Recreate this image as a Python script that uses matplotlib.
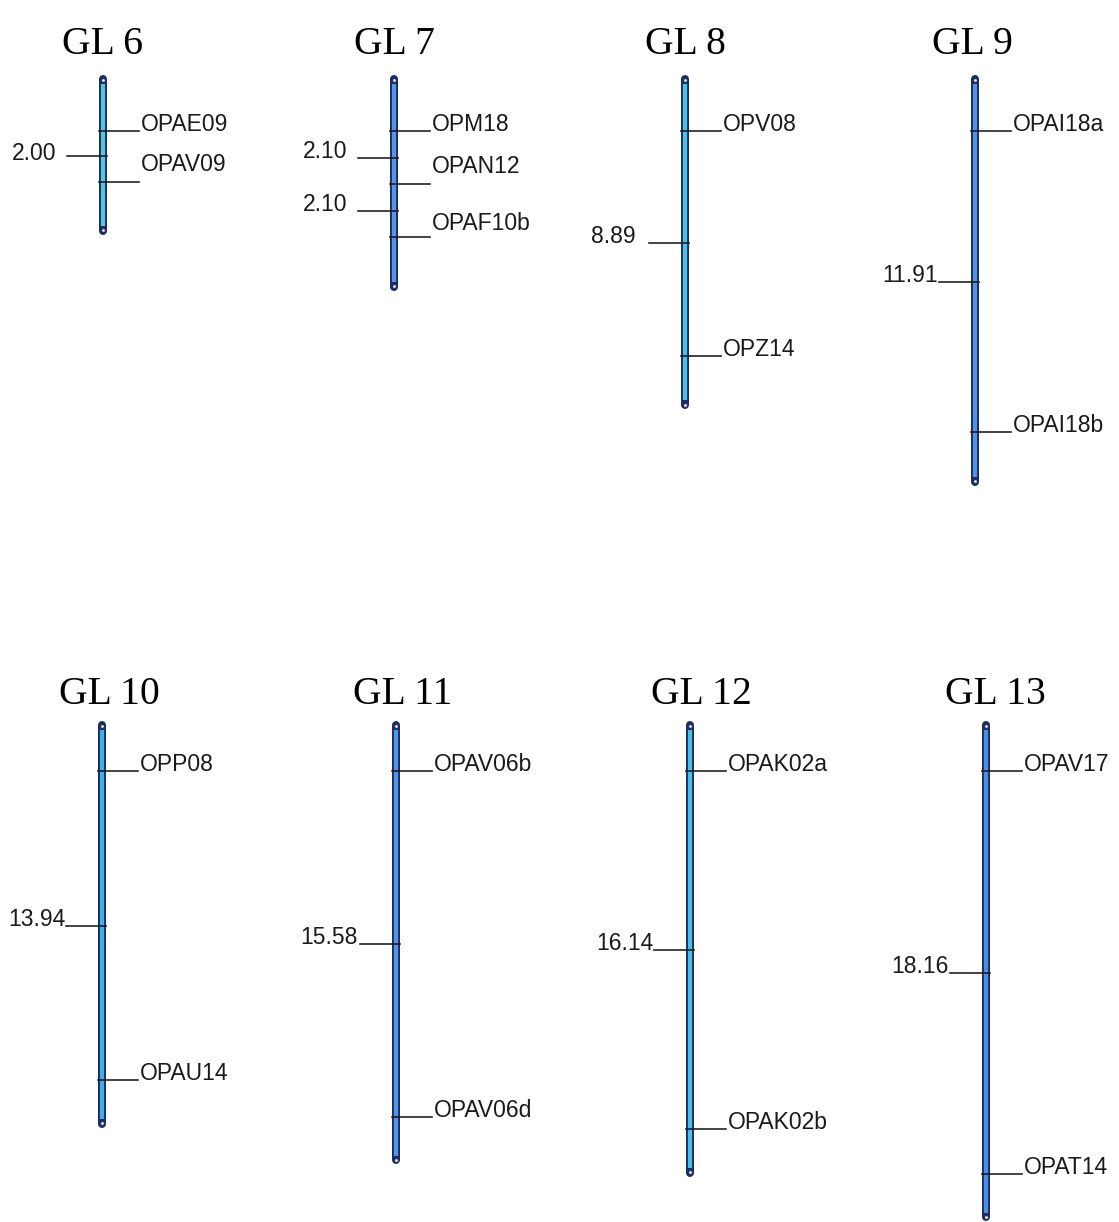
import matplotlib.pyplot as plt
import numpy as np

# Linkage groups, marker names and the map distances (cM) between neighbouring markers
groups = ["GL 6", "GL 7", "GL 8", "GL 9", "GL 10", "GL 11", "GL 12", "GL 13"]
markers = [
    ["OPAE09", "OPAV09"],
    ["OPM18", "OPAN12", "OPAF10b"],
    ["OPV08", "OPZ14"],
    ["OPAI18a", "OPAI18b"],
    ["OPP08", "OPAU14"],
    ["OPAV06b", "OPAV06d"],
    ["OPAK02a", "OPAK02b"],
    ["OPAV17", "OPAT14"],
]
distances = [
    [2.00],
    [2.10, 2.10],
    [8.89],
    [11.91],
    [13.94],
    [15.58],
    [16.14],
    [18.16],
]

# layout (pixel units, figure is 1119 x 1222 at 100 dpi)
W, H = 1119, 1222
PT = 72 / 100  # points per pixel
split = 611
bar_x = [103, 394, 685, 975, 102, 396, 690, 986]
title_dx = [0, 0, 0, -3, 7, 7, 11, 9]
fills = ["#52c6e0", "#5596e6", "#4cc2e2", "#4f93e6",
         "#42b0e6", "#4f95e8", "#48c0e0", "#4a8fe6"]
left_gap = [11, 11, 13, 1, 1, 2, 1, 1]
left_nudge = [-4, 0, 0, 0, 0, 0, 0, 0]
right_nudge = {("GL 6", 1): 11, ("GL 7", 1): 11, ("GL 7", 2): 7}
navy = "#1d2b5e"
ink = "#1a1a1a"

fig = plt.figure(figsize=(W / 100, H / 100), dpi=100)
fig.patch.set_facecolor("white")

# one axes per row; y in cM (down the chromosome), x in pixels
rows = [
    dict(ax=fig.add_axes([0, 1 - split / H, 1, split / H]), first=131, scale=25.3, title_up=25),
    dict(ax=fig.add_axes([0, 0, 1, (H - split) / H]), first=771 - split, scale=22.2, title_up=21),
]
for r in rows:
    ax = r["ax"]
    ax.set_xlim(0, W)
    ax.set_ylim((split - r["first"]) / r["scale"], -r["first"] / r["scale"])
    ax.axis("off")

for g, name in enumerate(groups):
    r = rows[0] if g < 4 else rows[1]
    ax = r["ax"]
    x = bar_x[g]
    pos = np.concatenate([[0.0], np.cumsum(distances[g])])
    top, bottom = -2.05, pos[-1] + 1.95

    # chromosome bar: dark outline, coloured core, small rings at the tips
    ax.plot([x, x], [top, bottom], color=navy, lw=8 * PT, solid_capstyle="round", zorder=2)
    ax.plot([x, x], [top + 0.2, bottom - 0.2], color=fills[g], lw=4.2 * PT,
            solid_capstyle="butt", zorder=3)
    ax.plot([x, x], [top + 0.02, bottom - 0.02], ls="none", marker="o", ms=3.2 * PT * 1.2,
            mfc="#dce8f4", mec=navy, mew=0.7, zorder=4)

    ax.annotate(name, (x + title_dx[g], top), xytext=(0, r["title_up"] * PT),
                textcoords="offset points", ha="center", va="baseline",
                fontsize=28.5, family="Liberation Serif", color="black")

    # markers on the right
    for i, (m, p) in enumerate(zip(markers[g], pos)):
        ax.plot([x - 4, x + 36], [p, p], color=ink, lw=1.6 * PT, zorder=5)
        ax.annotate(m, (x + 38, p), xytext=(0, right_nudge.get((name, i), 0) * PT),
                    textcoords="offset points", ha="left", va="baseline",
                    fontsize=16.5, family="Liberation Sans", color=ink)

    # interval distances on the left
    for i, d in enumerate(distances[g]):
        mid = (pos[i] + pos[i + 1]) / 2
        ax.plot([x - 36, x + 4], [mid, mid], color=ink, lw=1.6 * PT, zorder=5)
        ax.annotate(f"{d:.2f}", (x - 36 - left_gap[g], mid), xytext=(0, left_nudge[g] * PT),
                    textcoords="offset points", ha="right", va="baseline",
                    fontsize=16.5, family="Liberation Sans", color=ink)

fig.savefig("out.png", dpi=100, facecolor="white")
